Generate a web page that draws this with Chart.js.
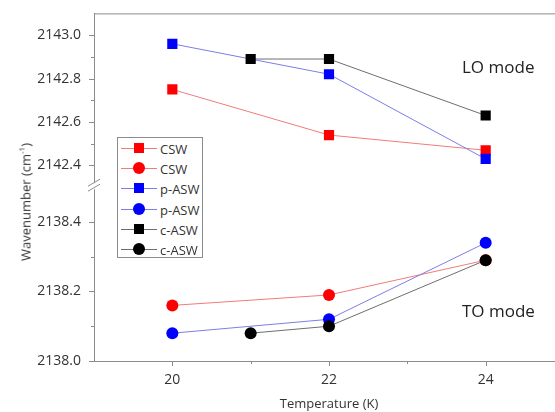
<!DOCTYPE html>
<html>
<head>
<meta charset="utf-8">
<script src="https://cdn.jsdelivr.net/npm/chart.js@4.4.1/dist/chart.umd.min.js"></script>
<style>
  html, body { margin: 0; padding: 0; background: #fff; overflow: hidden; }
  #wrap { position: relative; width: 555px; height: 412px; overflow: hidden; font-family: "Open Sans", sans-serif; color: #333; }
  canvas { position: absolute; left: 0; top: 0; }
  .note { position: absolute; font-size: 17px; color: #222; white-space: nowrap; }
  #ytitle { position: absolute; left: 25px; top: 202px; transform: translate(-50%, -50%) rotate(-90deg); font-size: 13px; white-space: nowrap; color: #333; }
  #ytitle sup { font-size: 8px; vertical-align: 6px; }
  #legend { position: absolute; left: 117px; top: 137px; width: 86px; height: 121px; border: 1px solid #8c8c8c; background: #fff; box-sizing: border-box; }
  .row { position: absolute; left: 0; height: 20px; width: 85px; }
  .row svg { position: absolute; left: 3px; top: 0; }
  .row span { position: absolute; left: 42px; top: 1px; font-size: 13px; line-height: 18px; color: #333; }
  #edge { position: absolute; left: 542px; top: 15px; width: 13px; height: 344px; background: #fff; }
</style>
</head>
<body>
<div id="wrap">
  <canvas id="c" width="564" height="412"></canvas>
  <div id="edge"></div>
  <div class="note" style="left:462px; top:55px;">LO mode</div>
  <div class="note" style="left:462px; top:299px;">TO mode</div>
  <div id="ytitle">Wavenumber (cm<sup>-1</sup>)</div>
  <div id="legend"></div>
</div>
<script>
// ---- data ----
const seriesNames = ["CSW", "p-ASW", "c-ASW"];
const tempCSW  = [20, 22, 24];
const tempPASW = [20, 22, 24];
const tempCASW = [21, 22, 24];
const loCSW  = [2142.75, 2142.54, 2142.47];
const loPASW = [2142.96, 2142.82, 2142.43];
const loCASW = [2142.89, 2142.89, 2142.63];
const toCSW  = [2138.16, 2138.19, 2138.29];
const toPASW = [2138.08, 2138.12, 2138.34];
const toCASW = [2138.08, 2138.10, 2138.29];
const xMajorTicks = [20, 22, 24];
const xMinorTicks = [21, 23];
const yLOMajorTicks = [2142.4, 2142.6, 2142.8, 2143.0];
const yLOMinorTicks = [2142.3, 2142.5, 2142.7, 2142.9];
const yTOMajorTicks = [2138.0, 2138.2, 2138.4];
const yTOMinorTicks = [2138.1, 2138.3, 2138.5];

// ---- styles ----
const markerColors = ["#ff0000", "#0000ff", "#000000"];
const lineColors = ["#f07c7c", "#7d7de6", "#6e6e6e"];
const axisColor = "#8c8c8c";
const tickFont = { family: "Open Sans", size: 14 };

function pts(xs, ys) { return xs.map((x, i) => ({ x: x, y: ys[i] })); }

const temps = [tempCSW, tempPASW, tempCASW];
const los = [loCSW, loPASW, loCASW];
const tos = [toCSW, toPASW, toCASW];

const datasets = [];
for (let s = 0; s < 3; s++) {
  datasets.push({
    label: seriesNames[s], data: pts(temps[s], los[s]), yAxisID: "yHi",
    borderColor: lineColors[s], borderWidth: 1, backgroundColor: markerColors[s],
    pointBackgroundColor: markerColors[s], pointBorderColor: markerColors[s], pointBorderWidth: 0,
    pointStyle: "rect", pointRadius: 7.2, order: 2 - s, tension: 0
  });
  datasets.push({
    label: seriesNames[s], data: pts(temps[s], tos[s]), yAxisID: "yLo",
    borderColor: lineColors[s], borderWidth: 1, backgroundColor: markerColors[s],
    pointBackgroundColor: markerColors[s], pointBorderColor: markerColors[s], pointBorderWidth: 0,
    pointStyle: "circle", pointRadius: 6, order: 2 - s, tension: 0
  });
}

function setTicks(major, minor) {
  return function (scale) {
    scale.ticks = major.concat(minor).sort((a, b) => a - b).map(v => ({ value: v }));
  };
}
function labelCb(major, digits) {
  return function (value) {
    const isMajor = major.some(m => Math.abs(m - value) < 1e-6);
    return isMajor ? value.toFixed(digits) : "";
  };
}

const tickPlugin = {
  id: "tickPlugin",
  afterDraw(chart) {
    const ctx = chart.ctx;
    const ca = chart.chartArea;
    ctx.save();
    ctx.strokeStyle = axisColor;
    ctx.lineWidth = 1;
    // top frame line
    ctx.beginPath();
    ctx.moveTo(ca.left, ca.top + 0.5);
    ctx.lineTo(chart.width, ca.top + 0.5);
    ctx.stroke();
    // y ticks
    [["yHi", yLOMajorTicks, yLOMinorTicks], ["yLo", yTOMajorTicks, yTOMinorTicks]].forEach(([id, maj, min]) => {
      const sc = chart.scales[id];
      maj.concat(min).forEach(v => {
        const y = Math.round(sc.getPixelForValue(v)) + 0.5;
        const len = maj.includes(v) ? 5 : 3;
        ctx.beginPath();
        ctx.moveTo(sc.right - len, y);
        ctx.lineTo(sc.right, y);
        ctx.stroke();
      });
    });
    // x ticks
    const xs = chart.scales.x;
    xMajorTicks.concat(xMinorTicks).forEach(v => {
      const x = Math.round(xs.getPixelForValue(v)) + 0.5;
      const len = xMajorTicks.includes(v) ? 5 : 3;
      ctx.beginPath();
      ctx.moveTo(x, xs.top);
      ctx.lineTo(x, xs.top + len);
      ctx.stroke();
    });
    // axis break
    const bx = chart.scales.yHi.right;
    const by = chart.scales.yHi.bottom;
    ctx.fillStyle = "#fff";
    ctx.fillRect(bx - 3, by - 4, 6, 6);
    ctx.beginPath();
    ctx.moveTo(bx - 6, by - 1); ctx.lineTo(bx + 6, by - 8);
    ctx.moveTo(bx - 6, by + 4); ctx.lineTo(bx + 6, by - 3);
    ctx.stroke();
    ctx.restore();
  }
};

const yCommon = {
  type: "linear", position: "left", stack: "v", stackWeight: 1, offset: false,
  border: { display: true, color: axisColor, width: 1 },
  grid: { display: false },
  ticks: { color: "#333", font: tickFont, padding: 5, autoSkip: false },
  afterFit(scale) { scale.width = 94; }
};

const chart = new Chart(document.getElementById("c"), {
  type: "line",
  data: { datasets: datasets },
  options: {
    responsive: false, animation: false, devicePixelRatio: 1,
    layout: { autoPadding: false, padding: { top: 13, left: 0, right: 0, bottom: 0 } },
    plugins: { legend: { display: false }, tooltip: { enabled: false } },
    scales: {
      x: {
        type: "linear", min: 19, max: 25,
        border: { display: true, color: axisColor, width: 1 },
        grid: { display: false },
        afterBuildTicks: setTicks(xMajorTicks, xMinorTicks),
        ticks: { color: "#333", font: tickFont, padding: 3, autoSkip: false, maxRotation: 0, callback: labelCb(xMajorTicks, 0) },
        title: { display: true, text: "Temperature (K)", color: "#333", font: { family: "Open Sans", size: 13 }, padding: { top: 6, bottom: 0 } },
        afterFit(scale) { scale.height = 51; scale.paddingRight = 0; scale.paddingLeft = 0; }
      },
      yLo: Object.assign({}, yCommon, {
        min: 2138.0, max: 2138.5,
        afterBuildTicks: setTicks(yTOMajorTicks, yTOMinorTicks),
        ticks: Object.assign({}, yCommon.ticks, { callback: labelCb(yTOMajorTicks, 1) })
      }),
      yHi: Object.assign({}, yCommon, {
        min: 2142.3, max: 2143.1,
        afterBuildTicks: setTicks(yLOMajorTicks, yLOMinorTicks),
        ticks: Object.assign({}, yCommon.ticks, { callback: labelCb(yLOMajorTicks, 1) })
      })
    }
  },
  plugins: [tickPlugin]
});

// ---- HTML legend ----
const legend = document.getElementById("legend");
let row = 0;
for (let s = 0; s < 3; s++) {
  ["rect", "circle"].forEach(shape => {
    const d = document.createElement("div");
    d.className = "row";
    d.style.top = (1 + row * 20.2) + "px";
    const marker = shape === "rect"
      ? `<rect x="13" y="4" width="10" height="10" fill="${markerColors[s]}"/>`
      : `<circle cx="18" cy="9" r="6" fill="${markerColors[s]}"/>`;
    d.innerHTML = `<svg width="38" height="18"><line x1="0" y1="9.5" x2="36" y2="9.5" stroke="${lineColors[s]}" stroke-width="1"/>${marker}</svg><span>${seriesNames[s]}</span>`;
    legend.appendChild(d);
    row++;
  });
}
</script>
</body>
</html>
